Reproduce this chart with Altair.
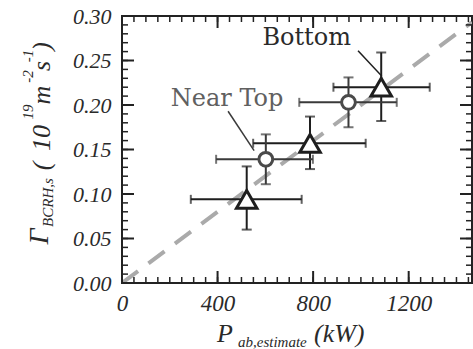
import altair as alt
import pandas as pd

# ---- data ----
series = ["Bottom", "Near Top", "Bottom", "Near Top", "Bottom"]
p_ab = [522, 602, 787, 948, 1085]
p_lo = [288, 394, 549, 742, 885]
p_hi = [752, 799, 1020, 1150, 1288]
gamma = [0.094, 0.139, 0.157, 0.203, 0.220]
g_lo = [0.060, 0.111, 0.128, 0.175, 0.182]
g_hi = [0.131, 0.167, 0.187, 0.231, 0.259]

fit_x = [0, 1465]
fit_y = [0.0, 0.293]

ann_label = ["Bottom", "Near Top"]
ann_text_x = [773, 440]
ann_text_y = [0.267, 0.199]
ann_from_x = [988, 444]
ann_from_y = [0.261, 0.193]
ann_to_x = [1087, 553]
ann_to_y = [0.2326, 0.1487]

x_labels = [0, 400, 800, 1200]
y_labels = [0.00, 0.05, 0.10, 0.15, 0.20, 0.25, 0.30]
x_minor = [i * 50 for i in range(30)]
y_minor = [round(i * 0.01, 2) for i in range(31)]

W, H = 350, 267
X_MAX, Y_MAX = 1465, 0.30

pts = pd.DataFrame({"series": series, "x": p_ab, "xlo": p_lo, "xhi": p_hi,
                    "y": gamma, "ylo": g_lo, "yhi": g_hi})
fit = pd.DataFrame({"x": fit_x, "y": fit_y})
ann = pd.DataFrame({"label": ann_label, "tx": ann_text_x, "ty": ann_text_y,
                    "fx": ann_from_x, "fy": ann_from_y, "ex": ann_to_x, "ey": ann_to_y})

xs = alt.Scale(domain=[0, X_MAX], nice=False, zero=False)
ys = alt.Scale(domain=[0, Y_MAX], nice=False, zero=False)

NUM_FONT = "Liberation Serif"
TITLE_FONT = "Liberation Serif"
INK = "#222222"
LABEL_INK = "#2a2a2a"

x_axis = alt.Axis(values=x_labels, format="d", title=None, grid=False, domain=False,
                  ticks=False, tickSize=0, labelFont=NUM_FONT, labelFontStyle="italic",
                  labelFontSize=23, labelColor=LABEL_INK, labelPadding=9, labelFlush=False,
                  labelOverlap=False)
y_axis = alt.Axis(values=y_labels, format=".2f", title=None, grid=False, domain=False,
                  ticks=False, tickSize=0, labelFont=NUM_FONT, labelFontStyle="italic",
                  labelFontSize=22, labelColor=LABEL_INK, labelPadding=11, labelFlush=False,
                  labelOverlap=False)

def X(f):
    return alt.X(f, type="quantitative", scale=xs, axis=x_axis)

def Y(f):
    return alt.Y(f, type="quantitative", scale=ys, axis=y_axis)

layers = []

# dashed reference line
layers.append(
    alt.Chart(fit).mark_line(color="#aaaaaa", strokeWidth=4, strokeDash=[20, 13], clip=True)
    .encode(x=X("x"), y=Y("y"))
)

styles = {"Bottom": dict(shape="triangle-up", size=420, stroke="#1e1e1e", bar="#1e1e1e"),
          "Near Top": dict(shape="circle", size=190, stroke="#4a4a4a", bar="#3a3a3a")}

for s, st in styles.items():
    base = alt.Chart(pts).transform_filter(alt.datum.series == s)
    layers.append(base.mark_rule(color=st["bar"], strokeWidth=2)
                  .encode(x=X("xlo"), x2="xhi", y=Y("y")))
    layers.append(base.mark_rule(color=st["bar"], strokeWidth=2)
                  .encode(x=X("x"), y=Y("ylo"), y2="yhi"))
    for f in ["xlo", "xhi"]:
        layers.append(base.mark_tick(color=st["bar"], orient="vertical", size=9, thickness=2)
                      .encode(x=X(f), y=Y("y")))
    for f in ["ylo", "yhi"]:
        layers.append(base.mark_tick(color=st["bar"], orient="horizontal", size=10, thickness=2)
                      .encode(x=X("x"), y=Y(f)))
    layers.append(base.mark_point(shape=st["shape"], size=st["size"], filled=True, fill="white",
                                  stroke=st["stroke"], strokeWidth=3, opacity=1)
                  .encode(x=X("x"), y=Y("y")))

# annotations
ann_style = {"Bottom": ("#2a2a2a", "#1e1e1e"), "Near Top": ("#606060", "#3a3a3a")}
for s, (tc, lc) in ann_style.items():
    b = alt.Chart(ann).transform_filter(alt.datum.label == s)
    layers.append(b.mark_rule(color=lc, strokeWidth=1.5)
                  .encode(x=X("fx"), y=Y("fy"), x2="ex", y2="ey"))
    layers.append(b.mark_text(font="DejaVu Serif", fontSize=24, color=tc, align="center",
                              baseline="alphabetic")
                  .encode(x=X("tx"), y=Y("ty"), text="label:N"))

# frame ticks (inward, major + minor)
def tick_layers(vals, length, width):
    c = alt.Chart(pd.DataFrame({"v": vals}))
    return [
        c.mark_rule(color=INK, strokeWidth=width).encode(x=X("v"), y=alt.value(H), y2=alt.value(H - length)),
        c.mark_rule(color=INK, strokeWidth=width).encode(x=X("v"), y=alt.value(0), y2=alt.value(length)),
    ]

def ytick_layers(vals, length, width):
    c = alt.Chart(pd.DataFrame({"v": vals}))
    return [
        c.mark_rule(color=INK, strokeWidth=width).encode(y=Y("v"), x=alt.value(0), x2=alt.value(length)),
        c.mark_rule(color=INK, strokeWidth=width).encode(y=Y("v"), x=alt.value(W), x2=alt.value(W - length)),
    ]

layers += tick_layers(x_minor, 6, 1.5) + tick_layers(x_labels, 12, 2)
layers += ytick_layers(y_minor, 6, 1.5) + ytick_layers(y_labels, 12, 2)

# axis titles built from pieces (sub/superscripts)
one = pd.DataFrame({"a": [0]})

def txt(s, x, y, size, angle=0, align="left"):
    props = dict(text=s, font=TITLE_FONT, fontStyle="italic", fontSize=size, color=LABEL_INK,
                 align=align, baseline="alphabetic")
    if angle:
        props["angle"] = angle
    return alt.Chart(one).mark_text(**props).encode(x=alt.value(x), y=alt.value(y))

# x title: P_{ab,estimate} (kW)
layers += [txt("P", 95, 326, 26), txt("ab,estimate", 116, 331, 15), txt("(kW)", 192, 326, 26)]

# y title: Γ_{BCRH,s} (10^{19} m^{-2} s^{-1})  rotated
layers += [
    txt("Γ", -74, 220.5, 28, 270, "center"),
    txt("BCRH,s", -69, 186.5, 15, 270, "center"),
    txt("(", -72, 150, 26, 270, "center"),
    txt("10", -72, 122, 26, 270, "center"),
    txt("19", -89, 96, 15, 270, "center"),
    txt("m", -72, 79, 26, 270, "center"),
    txt("-2", -89, 60.5, 15, 270, "center"),
    txt("s", -72, 50, 26, 270, "center"),
    txt("-1", -89, 40, 15, 270, "center"),
    txt(")", -72, 30.5, 26, 270, "center"),
]

chart = alt.layer(*layers).properties(
    width=W, height=H,
    autosize=alt.AutoSizeParams(type="none"),
    padding={"left": 122, "top": 16, "right": 1, "bottom": 66},
    background="white",
).configure_view(stroke=INK, strokeWidth=2)

chart.save("out.html", embed_options={"renderer": "svg", "actions": False})
